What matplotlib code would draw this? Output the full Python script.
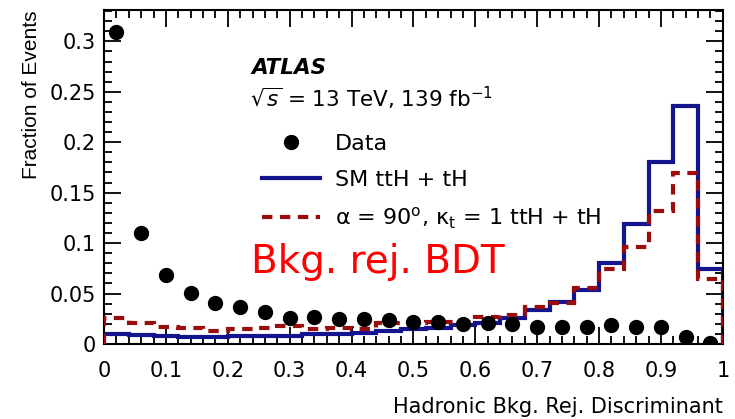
import matplotlib
matplotlib.use('Agg')

import numpy as np
import matplotlib.pyplot as plt
from matplotlib.ticker import MultipleLocator, FuncFormatter
from matplotlib.lines import Line2D

plt.rcParams['font.family'] = ['DejaVu Sans']
plt.rcParams['mathtext.fontset'] = 'dejavusans'

# 25 bins of width 0.04 on the discriminant
bin_edges = np.linspace(0.0, 1.0, 26)
bin_centres = 0.5 * (bin_edges[:-1] + bin_edges[1:])

data_frac = [0.309, 0.110, 0.068, 0.051, 0.041, 0.037, 0.032, 0.026, 0.027,
             0.025, 0.025, 0.024, 0.022, 0.022, 0.020, 0.021, 0.020, 0.017,
             0.017, 0.017, 0.019, 0.017, 0.017, 0.007, 0.001]
sm_frac = [0.010, 0.009, 0.008, 0.007, 0.007, 0.008, 0.008, 0.008, 0.010,
           0.010, 0.011, 0.013, 0.015, 0.016, 0.019, 0.021, 0.026, 0.034,
           0.042, 0.054, 0.080, 0.119, 0.180, 0.236, 0.074]
cp_frac = [0.026, 0.021, 0.017, 0.016, 0.013, 0.015, 0.016, 0.018, 0.015,
           0.016, 0.015, 0.021, 0.021, 0.022, 0.022, 0.027, 0.029, 0.037,
           0.041, 0.056, 0.074, 0.096, 0.132, 0.169, 0.064]

blue = '#14148f'
red = '#990d0d'
dash = (0, (2.5, 1.8))

fig = plt.figure(figsize=(7.35, 4.19), dpi=100)
ax = fig.add_axes([0.1415, 0.179, 0.842, 0.797])

ax.stairs(sm_frac, bin_edges, color=blue, lw=3, zorder=2)
ax.stairs(cp_frac, bin_edges, color=red, lw=3, ls=dash, zorder=3)
ax.plot(bin_centres, data_frac, 'o', color='black', ms=10, zorder=4)

ax.set_xlim(0, 1)
ax.set_ylim(0, 0.331)
ax.xaxis.set_major_locator(MultipleLocator(0.1))
ax.xaxis.set_minor_locator(MultipleLocator(0.02))
ax.yaxis.set_major_locator(MultipleLocator(0.05))
ax.yaxis.set_minor_locator(MultipleLocator(0.01))
fmt = FuncFormatter(lambda v, p: '%g' % round(v, 3))
ax.xaxis.set_major_formatter(fmt)
ax.yaxis.set_major_formatter(fmt)
ax.tick_params(which='both', direction='in', top=True, right=True,
               labelsize=15, width=1.3, color='black')
ax.tick_params(which='major', length=12)
ax.tick_params(axis='y', which='major', pad=6)
ax.tick_params(axis='x', which='major', pad=12)
ax.tick_params(which='minor', length=6)
for s in ax.spines.values():
    s.set_linewidth(1.5)

ax.set_ylabel('Fraction of Events', fontsize=15, loc='top', labelpad=6,
              family='Liberation Sans')
ax.set_xlabel('Hadronic Bkg. Rej. Discriminant', fontsize=15, loc='right', labelpad=12)

ax.text(0.238, 0.826, 'ATLAS', transform=ax.transAxes, fontsize=15.5,
        fontweight='bold', fontstyle='italic', va='center')
ax.text(0.236, 0.735, r'$\sqrt{s}$ = 13 TeV, 139 fb$^{-1}$', transform=ax.transAxes,
        fontsize=15.5, va='center')

handles = [
    Line2D([], [], ls='none', marker='o', color='black', ms=10),
    Line2D([], [], color=blue, lw=3),
    Line2D([], [], color=red, lw=3, ls=dash),
]
labels = ['Data', 'SM ttH + tH', 'α = 90$^{\\rm o}$, κ$_{\\rm t}$ = 1 ttH + tH']
ax.legend(handles, labels, loc='upper left', bbox_to_anchor=(0.256, 0.63),
          frameon=False, fontsize=16, handlelength=2.6, handletextpad=0.68,
          labelspacing=0.72, borderaxespad=0, borderpad=0)

ax.text(0.238, 0.245, 'Bkg. rej. BDT', transform=ax.transAxes, fontsize=28,
        color='red', va='center')

fig.savefig('out.png', dpi=100)
